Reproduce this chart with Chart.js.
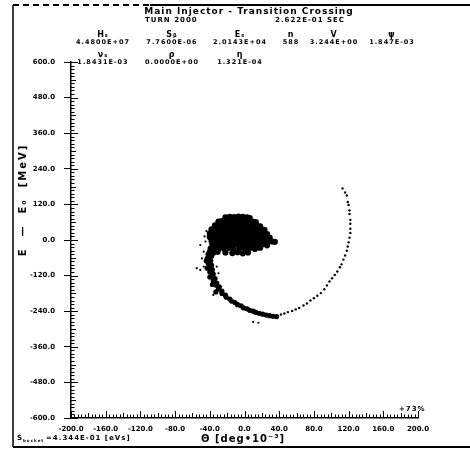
<!DOCTYPE html>
<html>
<head>
<meta charset="utf-8">
<script src="https://cdn.jsdelivr.net/npm/chart.js@4/dist/chart.umd.min.js"></script>
<style>
  html, body { margin: 0; padding: 0; background: #fff; }
</style>
</head>
<body>
<canvas id="phaseChart" width="470" height="452"></canvas>
<script>
// Axis ticks
const xTicks = [-200, -160, -120, -80, -40, 0, 40, 80, 120, 160, 200];
const yTicks = [-600, -480, -360, -240, -120, 0, 120, 240, 360, 480, 600];

// Header text
const titleText = 'Main Injector - Transition Crossing';
const turnText = 'TURN 2000';
const timeText = '2.622E-01 SEC';
const paramLabels1 = ['Hₛ', 'Sᵦ', 'Eₛ', 'n', 'V', 'ψ'];
const paramValues1 = ['4.4800E+07', '7.7600E-06', '2.0143E+04', '588', '3.244E+00', '1.847E-03'];
const paramLabels2 = ['νₛ', 'ρ', 'η'];
const paramValues2 = ['1.8431E-03', '0.0000E+00', '1.321E-04'];
const emittanceText = '=4.344E-01 [eVs]';
const percentText = '+73%';

// Particles: [theta (deg*1e-3), E - E0 (MeV)]
// dense core of the bunch
const corePoints = [
  [-22,76],[-17,78],[-12,77],[-7,79],[-2,78],[3,76],[6,74],
  [-30,62],[-26,64],[-21,65],[-16,63],[-11,64],[-6,66],[-1,63],[4,65],[9,62],[13,60],
  [-34,49],[-29,51],[-25,50],[-20,48],[-15,51],[-10,50],[-5,49],[0,51],[5,50],[10,48],[14,50],[18,46],
  [-38,36],[-33,38],[-29,35],[-24,37],[-19,38],[-14,36],[-9,37],[-4,35],[1,38],[6,36],[11,37],[15,35],[19,37],[23,34],
  [-40,22],[-35,24],[-31,25],[-26,23],[-21,24],[-16,22],[-11,25],[-6,23],[-1,24],[4,22],[9,25],[13,23],[18,24],[22,22],[26,20],
  [-40,10],[-36,11],[-31,9],[-27,12],[-22,10],[-17,11],[-12,9],[-7,12],[-3,10],[2,11],[7,9],[11,12],[16,10],[20,11],[25,9],[29,8],
  [-38,-3],[-34,-1],[-29,-4],[-25,-2],[-20,-3],[-15,-1],[-10,-4],[-6,-2],[-1,-3],[4,-1],[8,-4],[13,-2],[17,-3],[22,-1],[27,-4],[32,-5],[35,-6],
  [-37,-16],[-33,-14],[-28,-17],[-22,-15],[-17,-14],[-12,-17],[-7,-15],[-2,-16],[3,-14],[8,-17],[12,-15],[17,-16],[21,-14],[26,-18],
  [-39,-29],[-35,-27],[-30,-30],[-24,-28],[-19,-27],[-13,-30],[-6,-28],[0,-29],[6,-27],[12,-30],[18,-26],
  [-40,-41],[-36,-43],[-31,-40],[-22,-42],[-14,-44],[-8,-41],[-2,-45],[4,-42]
];
// thick tail leaving the bucket
const tailPoints = [
  [-42,-48],[-38,-55],[-43,-62],[-39,-70],[-42,-78],[-38,-85],[-41,-92],[-37,-100],[-40,-108],[-36,-115],
  [-38,-122],[-34,-130],[-36,-137],[-32,-145],[-33,-152],[-29,-158],[-30,-165],[-26,-172],[-26,-180],[-22,-186],
  [-21,-193],[-17,-199],[-15,-206],[-11,-211],[-8,-218],[-4,-222],[-1,-229],[3,-232],[6,-237],[10,-240],
  [13,-244],[17,-247],[21,-250],[25,-253],[29,-255],[33,-257],[37,-258],
  [-44,-70],[-43,-95],[-40,-125],[-37,-150],[-33,-175]
];
// thin outer spiral arm
const armPoints = [
  [42,-251],[46,-248],[50,-243],[55,-239],[59,-234],[63,-229],[68,-221],[72,-214],[76,-204],[80,-196],
  [84,-188],[88,-179],[92,-166],[95,-153],[98,-140],[101,-129],[104,-118],[107,-106],[110,-92],[112,-82],
  [114,-66],[116,-52],[118,-36],[119,-22],[120,-8],[121,8],[122,24],[122,38],[122,55],[122,68],
  [121,88],[121,100],[120,118],[119,128],[118,150],[116,160],[113,174]
];
// loose particles around the core
const strayPoints = [
  [-51,-17],[-47,-39],[-49,-62],[-47,-90],[-55,-95],[-51,-101],[-32,-90],[-30,-112],
  [-36,-185],[10,-276],[16,-279],[-44,30],[-46,12],[-45,-5]
];

const toXY = pts => pts.map(p => ({ x: p[0], y: p[1] }));

const FONT = "'DejaVu Sans', sans-serif";

// Draws inner minor ticks, header texts, axis titles and the page frame
const decorPlugin = {
  id: 'decor',
  afterDraw(chart) {
    const c = chart.ctx;
    const xs = chart.scales.x, ys = chart.scales.y;
    const area = chart.chartArea;
    c.save();
    c.strokeStyle = '#000';
    c.fillStyle = '#000';
    c.lineWidth = 1;

    // minor ticks on the y axis (inside)
    for (let v = -600; v <= 600; v += 12) {
      const y = Math.round(ys.getPixelForValue(v)) + 0.5;
      const len = v % 120 === 0 ? 7 : (v % 60 === 0 ? 5 : 3.5);
      c.beginPath(); c.moveTo(area.left, y); c.lineTo(area.left + len, y); c.stroke();
    }
    // minor ticks on the x axis (inside)
    for (let v = -200; v <= 200; v += 4) {
      const x = Math.round(xs.getPixelForValue(v)) + 0.5;
      const len = v % 40 === 0 ? 7 : (v % 20 === 0 ? 5 : 3.5);
      c.beginPath(); c.moveTo(x, area.bottom); c.lineTo(x, area.bottom - len); c.stroke();
    }

    // header
    c.textBaseline = 'middle';
    c.textAlign = 'center';
    c.letterSpacing = '1px';
    c.font = 'bold 9px ' + FONT;
    c.fillText(titleText, 249, 12);
    c.font = 'bold 7px ' + FONT;
    c.textAlign = 'left';
    c.fillText(turnText, 145, 20);
    c.textAlign = 'right';
    c.fillText(timeText, 345, 20);

    const cols = [103, 172, 240, 291, 334, 392];
    c.textAlign = 'center';
    paramLabels1.forEach((t, i) => {
      c.font = 'bold 8px ' + FONT;
      c.fillText(t, cols[i], 35);
      c.font = 'bold 6.5px ' + FONT;
      c.fillText(paramValues1[i], cols[i], 42);
    });
    paramLabels2.forEach((t, i) => {
      c.font = 'bold 8px ' + FONT;
      c.fillText(t, cols[i], 55);
      c.font = 'bold 6.5px ' + FONT;
      c.fillText(paramValues2[i], cols[i], 62);
    });

    // y axis title, rotated
    c.save();
    c.translate(23, 200);
    c.rotate(-Math.PI / 2);
    c.font = 'bold 10px ' + FONT;
    c.letterSpacing = '2px';
    c.textAlign = 'center';
    c.fillText('E  —  E₀  [MeV]', 0, 0);
    c.restore();

    // x axis title
    c.font = 'bold 10px ' + FONT;
    c.letterSpacing = '1px';
    c.textAlign = 'left';
    c.fillText('Θ [deg•10⁻³]', 201, 439);

    // emittance and percentage
    c.font = 'bold 7px ' + FONT;
    c.fillText('S', 17, 438);
    c.font = 'bold 4px ' + FONT;
    c.fillText('bucket', 23, 441);
    c.font = 'bold 7px ' + FONT;
    c.fillText(emittanceText, 46, 438);
    c.fillText(percentText, 399, 409);

    // page frame
    c.letterSpacing = '0px';
    c.lineWidth = 1.5;
    c.beginPath(); c.moveTo(13, 5); c.lineTo(13, 447); c.stroke();
    c.lineWidth = 2;
    c.beginPath(); c.moveTo(13, 447); c.lineTo(470, 447); c.stroke();
    c.beginPath(); c.moveTo(150, 5); c.lineTo(470, 5); c.stroke();
    c.setLineDash([6, 4]);
    c.beginPath(); c.moveTo(13, 5); c.lineTo(150, 5); c.stroke();
    c.restore();
  }
};

const tickFont = { family: FONT, size: 7, weight: 'bold' };

new Chart(document.getElementById('phaseChart'), {
  type: 'scatter',
  data: {
    datasets: [
      { data: toXY(corePoints), pointRadius: 3.1, backgroundColor: '#000', borderWidth: 0 },
      { data: toXY(tailPoints), pointRadius: 2.6, backgroundColor: '#000', borderWidth: 0 },
      { data: toXY(armPoints), pointRadius: 1.2, backgroundColor: '#000', borderWidth: 0 },
      { data: toXY(strayPoints), pointRadius: 1.1, backgroundColor: '#000', borderWidth: 0 }
    ]
  },
  options: {
    responsive: false,
    animation: false,
    layout: { padding: { left: 0, right: 52, top: 62, bottom: 0 } },
    plugins: { legend: { display: false }, tooltip: { enabled: false } },
    scales: {
      x: {
        type: 'linear', min: -200, max: 200,
        afterBuildTicks: s => { s.ticks = xTicks.map(v => ({ value: v })); },
        afterFit: s => { s.height = 34; },
        grid: { drawOnChartArea: false, drawTicks: false, color: '#000' },
        border: { color: '#000', width: 1.5 },
        ticks: { padding: 7, color: '#000', font: tickFont, maxRotation: 0, autoSkip: false,
                 callback: v => v.toFixed(1) }
      },
      y: {
        type: 'linear', min: -600, max: 600,
        afterBuildTicks: s => { s.ticks = yTicks.map(v => ({ value: v })); },
        afterFit: s => { s.width = 71; },
        grid: { drawOnChartArea: false, tickLength: 7, color: '#000' },
        border: { color: '#000', width: 1.5 },
        ticks: { padding: 9, color: '#000', font: tickFont, autoSkip: false,
                 callback: v => v.toFixed(1) }
      }
    }
  },
  plugins: [decorPlugin]
});
</script>
</body>
</html>
